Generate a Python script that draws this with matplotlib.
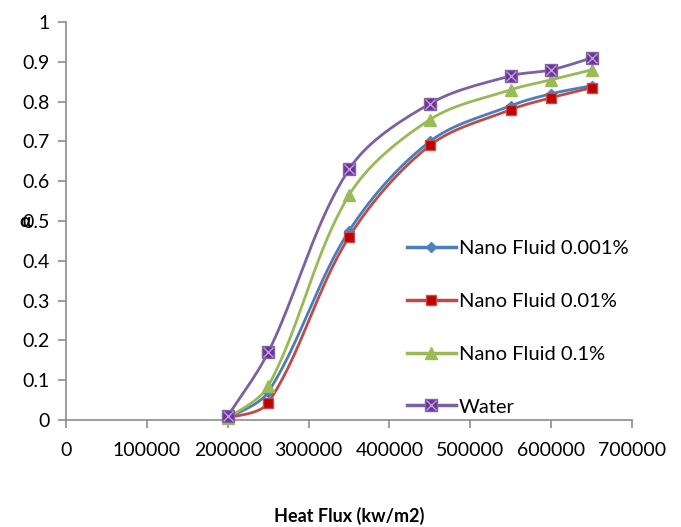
import numpy as np
import matplotlib
matplotlib.use("Agg")
import matplotlib.pyplot as plt
from matplotlib.legend_handler import HandlerTuple

heat_flux = [200000, 250000, 350000, 450000, 550000, 600000, 650000]
nf_0001 = [0.005, 0.07, 0.475, 0.70, 0.79, 0.82, 0.84]
nf_001 = [0.005, 0.043, 0.46, 0.69, 0.78, 0.81, 0.835]
nf_01 = [0.005, 0.085, 0.565, 0.755, 0.83, 0.855, 0.88]
water = [0.01, 0.17, 0.63, 0.795, 0.865, 0.88, 0.91]
labels = ["Nano Fluid 0.001%", "Nano Fluid 0.01%", "Nano Fluid 0.1%", "Water"]

plt.rcParams["font.family"] = ["Lato", "DejaVu Sans"]


def smooth(x, y, n=40, sx=566 / 700000, sy=398.0):
    # chord-length Catmull-Rom smoothing (like spreadsheet "smoothed line")
    P = np.column_stack([np.asarray(x, float) * sx, np.asarray(y, float) * sy])
    P = np.vstack([P[0], P, P[-1]])
    s = np.linspace(0, 1, n)
    h00 = 2 * s**3 - 3 * s**2 + 1
    h10 = s**3 - 2 * s**2 + s
    h01 = -2 * s**3 + 3 * s**2
    h11 = s**3 - s**2
    out = []
    for i in range(1, len(P) - 2):
        p0, p1, p2, p3 = P[i - 1], P[i], P[i + 1], P[i + 2]
        d0 = np.linalg.norm(p1 - p0)
        d1 = np.linalg.norm(p2 - p1)
        d2 = np.linalg.norm(p3 - p2)
        m1 = (p2 - p0) * d1 / (d0 + d1) if d0 > 0 else (p2 - p1) / 2
        m2 = (p3 - p1) * d1 / (d1 + d2) if d2 > 0 else (p2 - p1) / 2
        pts = np.outer(h00, p1) + np.outer(h10, m1) + np.outer(h01, p2) + np.outer(h11, m2)
        out.append(pts)
    out = np.vstack(out)
    return out[:, 0] / sx, out[:, 1] / sy


fig = plt.figure(figsize=(6.81, 5.27), dpi=100)
ax = fig.add_axes([0.097, 0.203, 0.831, 0.755])

series = [
    (nf_0001, "#4A7EBB", dict(marker="D", ms=5, mfc="#4F81BD", mec="#4F81BD")),
    (nf_001, "#BE4B48", dict(marker="s", ms=7, mfc="#C00000", mec="#C0504D")),
    (nf_01, "#98B954", dict(marker="^", ms=8, mfc="#9BBB59", mec="#9BBB59")),
    (water, "#7D60A0", dict(marker="s", ms=8, mfc="#7030A0", mec="#8064A2")),
]
handles = []
for (vals, col, mk), lab in zip(series, labels):
    sx, sy = smooth(heat_flux, vals)
    ax.plot(sx, sy, color=col, lw=2, zorder=2, clip_on=False)
    ax.plot(heat_flux, vals, ls="none", zorder=3, clip_on=False, **mk)
    h = ax.plot([], [], color=col, lw=2.5, **mk)[0]
    if lab == "Water":
        ax.plot(heat_flux, vals, ls="none", marker="x", ms=7, mec="#B7A6CF", mew=1, zorder=4, clip_on=False)
        hx = ax.plot([], [], ls="none", marker="x", ms=7, mec="#B7A6CF", mew=1)[0]
        h = (h, hx)
    handles.append(h)

ax.set_xlim(0, 700000)
ax.set_ylim(0, 1)
ax.set_xticks(np.arange(0, 700001, 100000))
ax.set_xticklabels([str(v) for v in range(0, 700001, 100000)])
ax.set_yticks(np.arange(0, 1.01, 0.1))
ax.set_yticklabels(["0", "0.1", "0.2", "0.3", "0.4", "0.5", "0.6", "0.7", "0.8", "0.9", "1"])
for s in ("top", "right"):
    ax.spines[s].set_visible(False)
for s in ("left", "bottom"):
    ax.spines[s].set_color("#8C8C8C")
    ax.spines[s].set_linewidth(1.2)
    ax.spines[s].set_zorder(1)
ax.tick_params(axis="both", colors="#8C8C8C", labelcolor="black", labelsize=14, length=6, width=1.2)
ax.tick_params(axis="x", pad=10)
ax.tick_params(axis="y", pad=6)

ax.set_xlabel("Heat Flux (kw/m2)", fontsize=13, fontweight="bold", labelpad=34)
ax.text(-0.072, 0.5, "α", transform=ax.transAxes, fontsize=14, fontweight="bold",
        ha="center", va="center")

ax.legend(handles, labels, loc="lower left", bbox_to_anchor=(0.585, -0.014), frameon=False,
          fontsize=14.5, handlelength=2.4, handletextpad=0.15, labelspacing=1.77,
          handler_map={tuple: HandlerTuple(ndivide=1)}, borderaxespad=0.1)

fig.savefig("out.png", dpi=100)
